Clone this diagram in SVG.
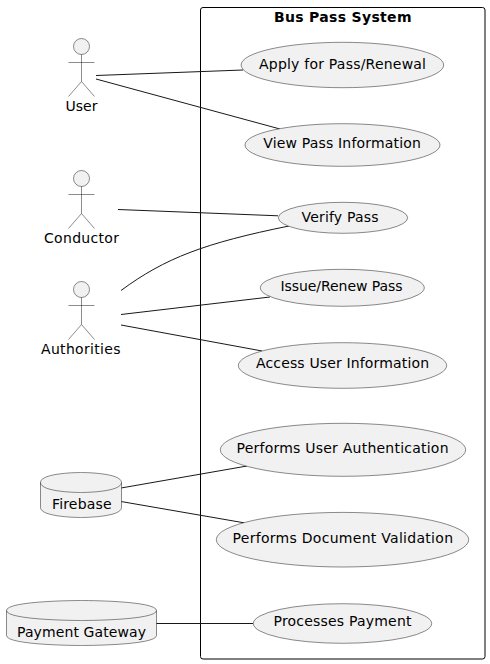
<svg xmlns="http://www.w3.org/2000/svg" width="490" height="664" viewBox="0 0 490 664">
<style>
text{font-family:"DejaVu Sans",sans-serif;font-size:14px;fill:#000}
.t{font-weight:bold}
.u{fill:#F1F1F1;stroke:#181818;stroke-width:.5}
.a{fill:#F1F1F1;stroke:#181818;stroke-width:.5}
.al{fill:none;stroke:#181818;stroke-width:.5}
.c{fill:none;stroke:#181818;stroke-width:1}
</style>
<rect width="490" height="664" fill="#fff"/>
<g id="system"><rect x="200.500" y="7.500" width="284.500" height="651.500" rx="2.500" fill="none" stroke="#000" stroke-width="1"/><text class="t" x="274" y="21.800" textLength="137.500">Bus Pass System</text></g>
<g id="connectors">
<path class="c" d="M96 75.500L243 70"/>
<path class="c" d="M96 79L280 129"/>
<path class="c" d="M118 209.500L278 215.800"/>
<path class="c" d="M121 290.500C165 258 205 243 289 226"/>
<path class="c" d="M121 314.500L270 297"/>
<path class="c" d="M121 325L262 351"/>
<path class="c" d="M121 488L247 466"/>
<path class="c" d="M121 501.500L244 522.800"/>
<path class="c" d="M156 623.500H253"/>
</g>
<g id="u1"><ellipse class="u" cx="342.400" cy="65" rx="101.300" ry="22.700"/><text x="259" y="68.500" textLength="167">Apply for Pass/Renewal</text></g>
<g id="u2"><ellipse class="u" cx="342.500" cy="145" rx="97.500" ry="21.300"/><text x="263.300" y="148" textLength="157.500">View Pass Information</text></g>
<g id="u3"><ellipse class="u" cx="343" cy="217.800" rx="64.700" ry="15.500"/><text x="301.500" y="222.300" textLength="77">Verify Pass</text></g>
<g id="u4"><ellipse class="u" cx="342.300" cy="287.800" rx="82" ry="18.500"/><text x="280.500" y="291.300" textLength="122">Issue/Renew Pass</text></g>
<g id="u5"><ellipse class="u" cx="342.500" cy="365.500" rx="104.200" ry="22.800"/><text x="256" y="368.300" textLength="173">Access User Information</text></g>
<g id="u6"><ellipse class="u" cx="343" cy="449.800" rx="122.700" ry="26.500"/><text x="236.500" y="453" textLength="212">Performs User Authentication</text></g>
<g id="u7"><ellipse class="u" cx="342.500" cy="539.700" rx="126.200" ry="27.300"/><text x="232.500" y="543.300" textLength="220.500">Performs Document Validation</text></g>
<g id="u8"><ellipse class="u" cx="342.500" cy="623.500" rx="89.200" ry="19.800"/><text x="273.500" y="626" textLength="138">Processes Payment</text></g>
<g id="user"><circle class="a" cx="81.500" cy="46.500" r="8"/><path class="al" d="M81.500 54.500V81.500M68.500 62.500H94.500M81.500 81.500L68.500 96.500M81.500 81.500L94.500 96.500"/><text x="65.500" y="111" textLength="32">User</text></g>
<g id="conductor"><circle class="a" cx="81.500" cy="178.500" r="8"/><path class="al" d="M81.500 186.500V213.500M68.500 194.500H94.500M81.500 213.500L68.500 228.500M81.500 213.500L94.500 228.500"/><text x="44" y="243" textLength="75">Conductor</text></g>
<g id="authorities"><circle class="a" cx="81.500" cy="289.500" r="8"/><path class="al" d="M81.500 297.500V324.500M68.500 305.500H94.500M81.500 324.500L68.500 339.500M81.500 324.500L94.500 339.500"/><text x="41" y="354" textLength="79.500">Authorities</text></g>
<g id="firebase"><path class="a" d="M40.500 482.500C40.500 472.500 81 472.500 81 472.500C81 472.500 121.500 472.500 121.500 482.500V507.500C121.500 517.500 81 517.500 81 517.500C81 517.500 40.500 517.500 40.500 507.500Z"/><path class="al" d="M40.500 482.500C40.500 492.500 81 492.500 81 492.500C81 492.500 121.500 492.500 121.500 482.500"/><text x="52" y="509" textLength="59.500">Firebase</text></g>
<g id="payment"><path class="a" d="M6.500 610.500C6.500 600.500 81.500 600.500 81.500 600.500C81.500 600.500 156.500 600.500 156.500 610.500V635.500C156.500 645.500 81.500 645.500 81.500 645.500C81.500 645.500 6.500 645.500 6.500 635.500Z"/><path class="al" d="M6.500 610.500C6.500 620.500 81.500 620.500 81.500 620.500C81.500 620.500 156.500 620.500 156.500 610.500"/><text x="17" y="637" textLength="129">Payment Gateway</text></g>
</svg>
